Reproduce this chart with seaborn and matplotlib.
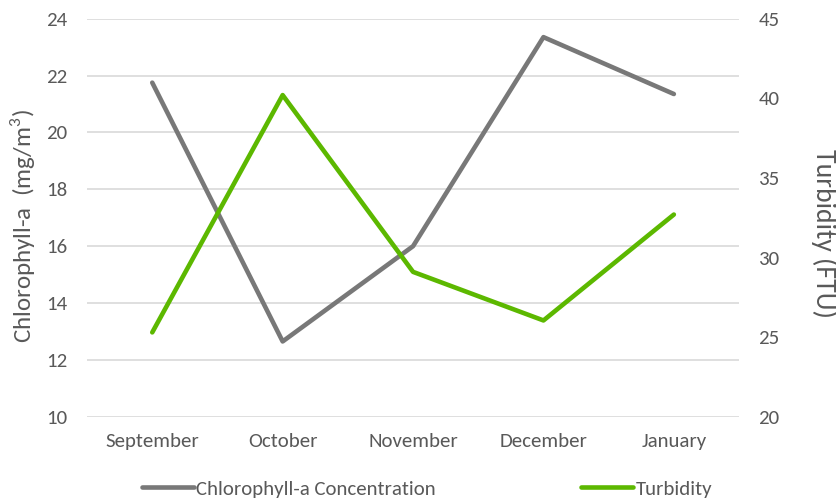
import matplotlib
matplotlib.use("Agg")
import matplotlib.pyplot as plt
import pandas as pd
import seaborn as sns

# data
months = ['September', 'October', 'November', 'December', 'January']
chlorophyll = [21.75, 12.65, 16.0, 23.35, 21.35]
turbidity = [25.3, 40.2, 29.1, 26.05, 32.7]

gray = '#787878'
green = '#5cb800'
text_col = '#595959'

sns.set_style('white')
plt.rcParams['font.family'] = ['Carlito', 'DejaVu Sans']
plt.rcParams['mathtext.fontset'] = 'custom'
plt.rcParams['mathtext.rm'] = 'Carlito'

df = pd.DataFrame({'month': months, 'chl': chlorophyll, 'turb': turbidity})
df['pos'] = range(len(months))

fig = plt.figure(figsize=(8.37, 5.04), dpi=100)
ax = fig.add_axes([0.104, 0.173, 0.779, 0.790])
ax2 = ax.twinx()

sns.lineplot(data=df, x='pos', y='chl', ax=ax, color=gray, linewidth=3.3,
             label='Chlorophyll-a Concentration', legend=False)
sns.lineplot(data=df, x='pos', y='turb', ax=ax2, color=green, linewidth=3.3,
             label='Turbidity', legend=False)
for l in ax.lines + ax2.lines:
    l.set_solid_capstyle('round')

ax.set_xlim(-0.5, len(months) - 0.5)
ax.set_ylim(10, 24)
ax.set_yticks(range(10, 25, 2))
ax2.set_ylim(20, 45)
ax2.set_yticks(range(20, 46, 5))
ax.set_xticks(df['pos'])
ax.set_xticklabels(months)

ax.grid(axis='y', color='#d9d9d9', linewidth=1.2)
ax.set_axisbelow(True)
for a in (ax, ax2):
    for s in a.spines.values():
        s.set_visible(False)
    a.tick_params(length=0, labelsize=15, labelcolor=text_col)
ax.tick_params(axis='y', pad=14)
ax.tick_params(axis='x', pad=12)
ax2.tick_params(axis='y', pad=14)

ax.set_xlabel('')
ax.set_ylabel('Chlorophyll-a  (mg/m$^3$)', fontsize=18, color=text_col)
ax.yaxis.set_label_coords(-0.077, 0.48)
ax2.set_ylabel('Turbidity (FTU)', fontsize=20, color=text_col, rotation=270,
               va='center')
ax2.yaxis.set_label_coords(1.13, 0.46)

handles = ax.lines[:1] + ax2.lines[:1]
fig.legend(handles, [h.get_label() for h in handles], loc='center',
           bbox_to_anchor=(0.51, 0.03), ncol=2, frameon=False, fontsize=15,
           handlelength=2.5, handletextpad=0.1, columnspacing=7.0,
           labelcolor=text_col)

fig.savefig('out.png', dpi=100)
